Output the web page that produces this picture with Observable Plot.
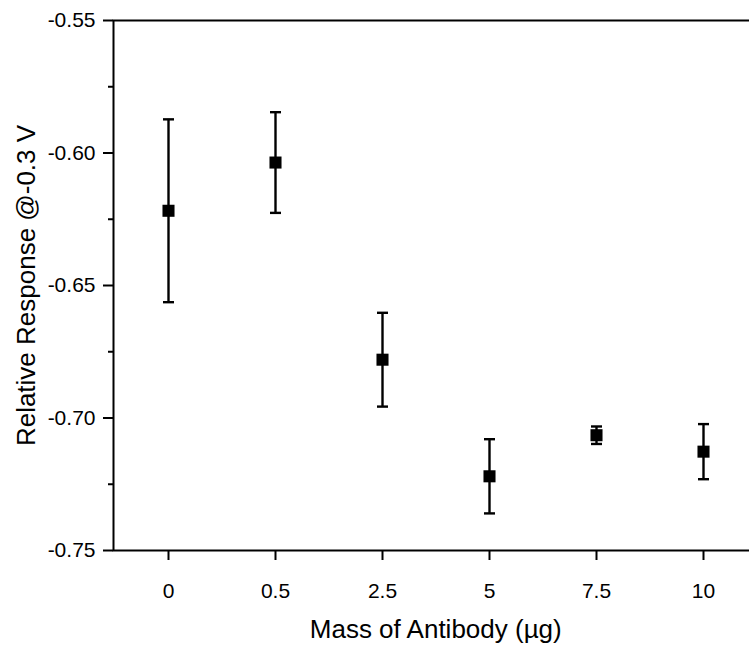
<!DOCTYPE html>
<html>
<head>
<meta charset="utf-8">
<script src="https://cdn.jsdelivr.net/npm/d3@7"></script>
<script src="https://cdn.jsdelivr.net/npm/@observablehq/plot@0.6"></script>
<style>
  html, body { margin: 0; padding: 0; background: #fff; overflow: hidden; }
</style>
</head>
<body>
<div id="chart"></div>
<script>
// Categories (x) and series values
const masses = ["0", "0.5", "2.5", "5", "7.5", "10"];
const response = [-0.6218, -0.6036, -0.6780, -0.7220, -0.7065, -0.7127];
const errors = [0.0345, 0.0190, 0.0177, 0.0140, 0.0033, 0.0104];
const yMajorTicks = [-0.55, -0.60, -0.65, -0.70, -0.75];
const yMinorTicks = [-0.575, -0.625, -0.675, -0.725];
const xTitle = "Mass of Antibody (µg)";
const yTitle = "Relative Response @-0.3 V";

const data = masses.map((m, i) => ({
  mass: m,
  value: response[i],
  lo: response[i] - errors[i],
  hi: response[i] + errors[i]
}));

// horizontal line symbol for error-bar caps
const capSymbol = {
  draw(context, size) {
    const r = Math.sqrt(size / Math.PI);
    context.moveTo(-r, 0);
    context.lineTo(r, 0);
  }
};

const chart = Plot.plot({
  width: 749,
  height: 646,
  marginLeft: 113,
  marginRight: -8.5,
  marginTop: 20,
  marginBottom: 96,
  style: {fontFamily: "'Liberation Sans', Arial, sans-serif", fontSize: "21px", background: "#fff", color: "#000"},
  x: {type: "point", domain: masses, padding: 0.5, label: null},
  y: {domain: [-0.75, -0.55], label: null},
  marks: [
    Plot.frame({stroke: "#000", strokeWidth: 2}),
    Plot.axisY(yMajorTicks, {tickSize: 10, tickPadding: 8, strokeWidth: 2, fontSize: 21, label: null, tickFormat: d => d.toFixed(2)}),
    Plot.axisY(yMinorTicks, {tickSize: 5, strokeWidth: 2, text: null, label: null}),
    Plot.axisX(masses, {tickSize: 10, tickPadding: 23, strokeWidth: 2, fontSize: 21, label: null}),
    Plot.ruleX(data, {x: "mass", y1: "lo", y2: "hi", stroke: "#000", strokeWidth: 2.4}),
    Plot.dot(data, {x: "mass", y: "lo", symbol: capSymbol, r: 5.5, stroke: "#000", fill: "none", strokeWidth: 2.4}),
    Plot.dot(data, {x: "mass", y: "hi", symbol: capSymbol, r: 5.5, stroke: "#000", fill: "none", strokeWidth: 2.4}),
    Plot.dot(data, {x: "mass", y: "value", symbol: "square", r: 6.8, fill: "#000", stroke: null}),
    Plot.text([xTitle], {frameAnchor: "bottom", dy: 79, fontSize: 26, textAnchor: "middle", lineAnchor: "middle", fill: "#000"}),
    Plot.text([yTitle], {frameAnchor: "left", dx: -87, rotate: -90, fontSize: 26, textAnchor: "middle", lineAnchor: "middle", fill: "#000"})
  ]
});
document.getElementById("chart").appendChild(chart);
</script>
</body>
</html>
